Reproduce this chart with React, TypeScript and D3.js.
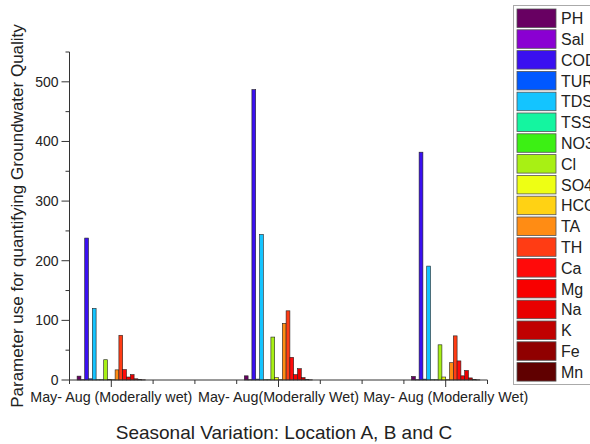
import React from "react";
import * as d3 from "d3";

const WIDTH = 590;
const HEIGHT = 444;
const FONT = "'Liberation Sans', Arial, sans-serif";

const params = ["PH", "Sal", "COD", "TUR", "TDS", "TSS", "NO3", "Cl", "SO4", "HCO3", "TA", "TH", "Ca", "Mg", "Na", "K", "Fe", "Mn"];

const colors = [
  "#680062", "#8a00d2", "#3a10f0", "#0058ff", "#14c4ff", "#14f5a0",
  "#3cf014", "#a8f014", "#eeff14", "#ffd214", "#ff8c14", "#ff3c14",
  "#ff0a0a", "#f80000", "#e80000", "#c00000", "#900000", "#600000",
];

const groupLabels = [
  "May- Aug (Moderally wet)",
  "May- Aug(Moderally Wet)",
  "May- Aug (Moderally Wet)",
];
// position of each group on the numeric x axis (0..10)
const groupPos = [1, 5, 9];

const locA = [6.5, 0.5, 238, 2, 120, 0.5, 0.5, 34, 1, 0.5, 17, 75, 17.5, 5, 9, 2, 1, 0.3];
const locB = [7, 0.5, 487, 1.5, 244, 0.5, 0.5, 72, 4, 0.5, 95, 116, 38, 9, 19, 4, 1, 0.3];
const locC = [6, 0.5, 382, 1.5, 191, 0.5, 0.5, 59, 5, 0.5, 29, 74, 32, 7, 16, 3.5, 1, 0.3];

const yTicks = [0, 100, 200, 300, 400, 500];

export default function App() {
  const x = d3.scaleLinear().domain([0, 10]).range([69.5, 487.5]);
  const y = d3.scaleLinear().domain([0, 550]).range([380, 52]);
  const groupW = (x(1) - x(0)) * 1.636;
  const band = d3.scaleBand().domain(params).range([-groupW / 2, groupW / 2]);
  const series = [locA, locB, locC];
  const minor = d3.range(0, 551, 50).filter((v) => v % 100 !== 0);

  return (
    <svg width={WIDTH} height={HEIGHT} style={{ display: "block", background: "#fff" }} fontFamily={FONT}>
      <style>{`body{margin:0}`}</style>

      {/* bars */}
      {series.map((vals, g) => (
        <g key={g} transform={`translate(${x(groupPos[g])},0)`}>
          {vals.map((v, i) => (
            <rect
              key={i}
              x={band(params[i])}
              y={y(v)}
              width={band.bandwidth()}
              height={y(0) - y(v)}
              fill={colors[i]}
              stroke="#222"
              strokeWidth={0.6}
            />
          ))}
        </g>
      ))}

      {/* y axis */}
      <line x1={x(0)} x2={x(0)} y1={y(0)} y2={y(550)} stroke="#333" strokeWidth={1} />
      {yTicks.map((t) => (
        <g key={t}>
          <line x1={x(0) - 8} x2={x(0)} y1={y(t)} y2={y(t)} stroke="#333" />
          <text x={x(0) - 11} y={y(t)} dy="0.35em" textAnchor="end" fontSize={14} fill="#222">{t}</text>
        </g>
      ))}
      {minor.map((t) => (
        <line key={t} x1={x(0) - 4} x2={x(0)} y1={y(t)} y2={y(t)} stroke="#333" />
      ))}

      {/* x axis */}
      <line x1={x(0)} x2={x(10)} y1={y(0)} y2={y(0)} stroke="#333" strokeWidth={1} />
      {d3.range(0, 11).map((t) => (
        <line key={t} x1={x(t)} x2={x(t)} y1={y(0)} y2={y(0) + (groupPos.includes(t) ? 7 : 4)} stroke="#333" />
      ))}
      {groupLabels.map((l, g) => (
        <text key={g} x={x(groupPos[g])} y={402} textAnchor="middle" fontSize={14.3} fill="#222">{l}</text>
      ))}

      <text x={284} y={439} textAnchor="middle" fontSize={19} fill="#222">Seasonal Variation: Location A, B and C</text>
      <text transform="translate(23,216) rotate(-90)" textAnchor="middle" fontSize={17} fill="#222">
        Parameter use for quantifying Groundwater Quality
      </text>

      {/* legend */}
      <rect x={513.5} y={5.5} width={100} height={379} fill="#fff" stroke="#aaa" />
      {params.map((p, i) => (
        <g key={p} transform={`translate(517,${9 + i * 20.8})`}>
          <rect width={39} height={18.5} fill={colors[i]} stroke="#555" strokeWidth={0.8} />
          <text x={44} y={9.5} dy="0.36em" fontSize={16} fill="#222">{p}</text>
        </g>
      ))}
    </svg>
  );
}
